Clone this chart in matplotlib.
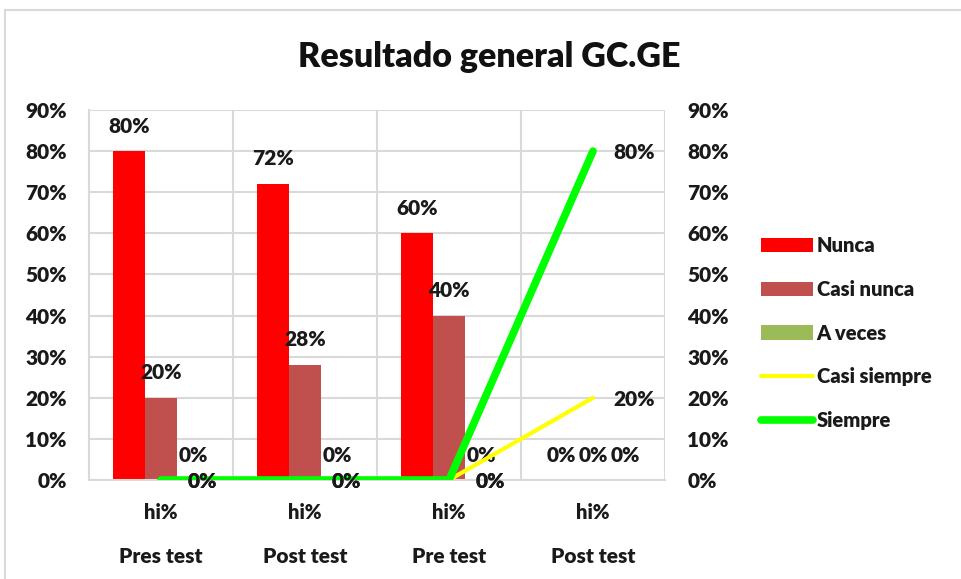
import numpy as np
import matplotlib.pyplot as plt
from matplotlib.patches import Patch, Rectangle
from matplotlib.lines import Line2D

plt.rcParams['font.family'] = ['Lato', 'DejaVu Sans']
plt.rcParams['font.weight'] = 'bold'

# --- data ---
groups = ['Pres test', 'Post test', 'Pre test', 'Post test']
sub_labels = ['hi%', 'hi%', 'hi%', 'hi%']
nunca = [0.80, 0.72, 0.60, 0.0]
casi_nunca = [0.20, 0.28, 0.40, 0.0]
a_veces = [0.0, 0.0, 0.0, 0.0]
casi_siempre = [0.0, 0.0, 0.0, 0.20]
siempre = [0.0, 0.0, 0.0, 0.80]

bar_series = [('Nunca', nunca, '#FF0000'),
              ('Casi nunca', casi_nunca, '#C0504D'),
              ('A veces', a_veces, '#9BBB59')]
line_series = [('Casi siempre', casi_siempre, '#FFFF00', 3.0),
               ('Siempre', siempre, '#00FF00', 5.5)]

fig = plt.figure(figsize=(9.61, 5.79), dpi=100)
fig.patches.append(Rectangle((5 / 961, -0.1), 1.2, 1.1 - 10 / 579, transform=fig.transFigure,
                             fill=False, edgecolor='#d9d9d9', linewidth=1.5))

ax = fig.add_axes([89 / 961, 99 / 579, 576 / 961, 370 / 579])
ax2 = ax.twinx()

x = np.arange(len(groups))
w = 0.222
lbl_font = dict(fontsize=15, fontweight='heavy', color='#1a1a1a')

for i, (name, vals, col) in enumerate(bar_series):
    pos = x + (i - 1) * w
    ax.bar(pos, vals, width=w, color=col, zorder=2)
    for px, v in zip(pos, vals):
        ax.annotate(f'{v:.0%}', (px, v), xytext=(0, 18), textcoords='offset points',
                    ha='center', va='center', **lbl_font)

for name, vals, col, lw in line_series:
    ax2.plot(x, vals, color=col, linewidth=lw, solid_capstyle='round', zorder=3)
    for px, v in zip(x, vals):
        ax2.annotate(f'{v:.0%}', (px, v), xytext=(30, -1), textcoords='offset points',
                     ha='center', va='center', **lbl_font)

for a in (ax, ax2):
    a.set_ylim(0, 0.9)
    a.set_yticks(np.arange(0, 0.91, 0.1))
    a.set_yticklabels([f'{t:.0%}' for t in np.arange(0, 0.91, 0.1)], fontsize=15, fontweight='heavy')
    a.tick_params(axis='y', length=0, pad=16, colors='#1a1a1a')
    for s in a.spines.values():
        s.set_visible(False)
ax.set_xlim(-0.5, len(groups) - 0.5)
ax.set_xticks([])
ax.set_xticks(np.arange(0.5, len(groups) - 0.4, 1), minor=True)
ax.tick_params(axis='x', which='minor', length=0)
ax.grid(axis='y', color='#d9d9d9', linewidth=1.5, zorder=0)
ax.grid(axis='x', which='minor', color='#d9d9d9', linewidth=1.5, zorder=0)
ax.set_axisbelow(True)
for side in ('bottom', 'left'):
    ax.spines[side].set_visible(True)
    ax.spines[side].set_color('#d9d9d9')
    ax.spines[side].set_linewidth(1.5)

tr = ax.get_xaxis_transform()
for i in range(len(groups)):
    ax.text(x[i], -0.087, sub_labels[i], transform=tr, ha='center', va='center',
            fontsize=14.5, fontweight='heavy', color='#1a1a1a')
    ax.text(x[i], -0.208, groups[i], transform=tr, ha='center', va='center',
            fontsize=15, fontweight='heavy', color='#1a1a1a')

fig.text(489 / 961, 1 - 57 / 579, 'Resultado general GC.GE', ha='center', va='center',
         fontsize=24.5, fontweight='heavy', color='#111111')

handles = [Patch(facecolor=c, label=n) for n, _, c in bar_series]
handles += [Line2D([0], [0], color=c, linewidth=lw, solid_capstyle='round', label=n)
            for n, _, c, lw in line_series]
fig.legend(handles=handles, loc='center left', bbox_to_anchor=(743 / 961, 1 - 333 / 579),
           frameon=False, prop=dict(size=14.5, weight='heavy'), labelspacing=1.22,
           handlelength=2.6, handletextpad=0.15, handleheight=0.7, labelcolor='#1a1a1a')

fig.savefig('out.png', dpi=100)
